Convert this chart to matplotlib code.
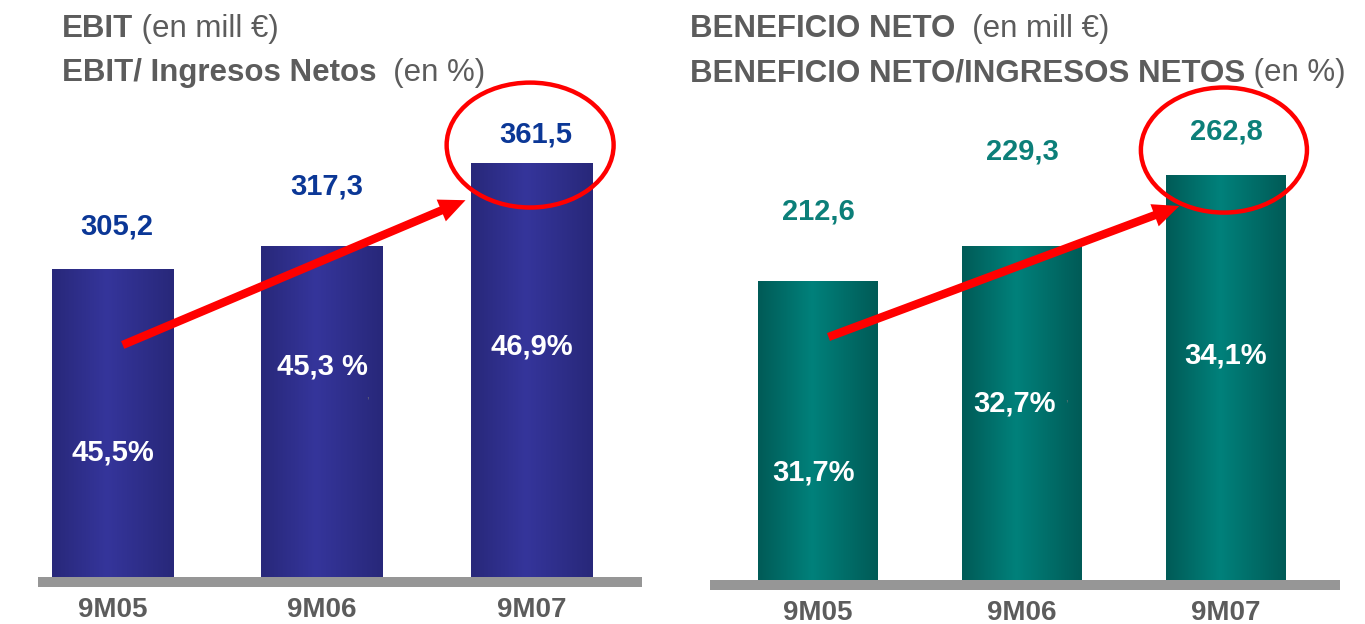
#! /usr/bin/env python3
"""EBIT y Beneficio Neto 9M05-9M07, dos paneles de barras."""

import numpy as np
import matplotlib.pyplot as plt
from matplotlib.patches import Ellipse, FancyArrowPatch

plt.rcParams['font.family'] = ['Liberation Sans', 'DejaVu Sans']

# Datos
periodos = ['9M05', '9M06', '9M07']
ebit = [305.2, 317.3, 361.5]
ebit_lbl = ['305,2', '317,3', '361,5']
ebit_pct = ['45,5%', '45,3 %', '46,9%']
bn = [212.6, 229.3, 262.8]
bn_lbl = ['212,6', '229,3', '262,8']
bn_pct = ['31,7%', '32,7%', '34,1%']

W, H = 1365, 624
fig = plt.figure(figsize=(W / 100, H / 100), dpi=100)

gris_txt = '#5c5c5c'


def gradiente(c_osc, c_cla, n=64):
    t = np.linspace(0, 1, n)
    k = np.interp(t, [0, 0.45, 1], [0, 1, 0])
    a = np.array(plt.matplotlib.colors.to_rgb(c_osc))
    b = np.array(plt.matplotlib.colors.to_rgb(c_cla))
    return (a[None, :] * (1 - k[:, None]) + b[None, :] * k[:, None])[None, :, :]


def panel(rect, vals, ylim, xlim, ancho, c_osc, c_cla, banda):
    ax = fig.add_axes(rect)
    grad = gradiente(c_osc, c_cla)
    bars = ax.bar(range(len(vals)), vals, width=ancho, color=c_cla, zorder=2)
    for b in bars:
        x0 = b.get_x()
        im = ax.imshow(grad, extent=(x0, x0 + b.get_width(), ylim[0], b.get_height()),
                       aspect='auto', zorder=2.5)
        im.set_clip_path(b)
    ax.axhspan(ylim[0], banda, color='#969696', zorder=3, lw=0)
    ax.set_xlim(*xlim)
    ax.set_ylim(*ylim)
    for s in ax.spines.values():
        s.set_visible(False)
    ax.set_yticks([])
    ax.set_xticks(range(len(vals)))
    ax.set_xticklabels(periodos, fontsize=20, fontweight='bold', color=gris_txt)
    ax.tick_params(axis='x', length=0, pad=7)
    return ax


def titulo(x, y, negrita, normal):
    t = fig.text(x / W, 1 - y / H, negrita, fontsize=22.5, fontweight='bold',
                 color=gris_txt, va='baseline')
    a = plt.Annotation(normal, xy=(1, 0), xycoords=t, va='bottom',
                       fontsize=22.5, color=gris_txt)
    fig.add_artist(a)


# Panel izquierdo: EBIT
axL = panel([38 / W, 37 / H, 604 / W, 587 / H], ebit, (136.4, 448.0),
            (-0.356, 2.527), 0.582, '#28287a', '#35359b', 141.7)
for i, (v, lab, py) in enumerate(zip(ebit, ebit_lbl, [328.0, 349.2, 376.8])):
    axL.text(i + 0.02, py, lab, ha='center', va='center', fontsize=21,
             fontweight='bold', color='#0b3796', zorder=5)
for i, (lab, py) in enumerate(zip(ebit_pct, [208.0, 253.7, 264.3])):
    axL.text(i, py, lab, ha='center', va='center', fontsize=21,
             fontweight='bold', color='white', zorder=5)
axL.text(1.215, 238.3, ',', fontsize=7, color='#777777', ha='center', va='center', zorder=5)
axL.add_patch(FancyArrowPatch((0.036, 264.3), (1.697, 342.3),
                              arrowstyle='simple,head_length=1.9,head_width=1.7,tail_width=0.6',
                              mutation_scale=10, color='#ff0000', lw=0, zorder=6))
axL.add_patch(Ellipse((1.993, 371.0), 0.797, 66.3, fill=False, ec='#ff0000',
                      lw=3.2, zorder=6, clip_on=False))

# Panel derecho: Beneficio neto
axR = panel([710 / W, 34 / H, 630 / W, 590 / H], bn, (66.8, 345.6),
            (-0.529, 2.559), 0.588, '#005b57', '#00817b', 71.5)
for i, (v, lab, py) in enumerate(zip(bn, bn_lbl, [245.6, 274.0, 283.5])):
    axR.text(i, py, lab, ha='center', va='center', fontsize=21,
             fontweight='bold', color='#0c7f79', zorder=5)
for i, (lab, dx, py) in enumerate(zip(bn_pct, [-0.02, -0.034, 0.0], [122.5, 154.7, 177.4])):
    axR.text(i + dx, py, lab, ha='center', va='center', fontsize=21,
             fontweight='bold', color='white', zorder=5)
axR.text(1.22, 157.5, ',', fontsize=7, color='#777777', ha='center', va='center', zorder=5)
axR.add_patch(FancyArrowPatch((0.039, 185.9), (1.784, 248.7),
                              arrowstyle='simple,head_length=1.9,head_width=1.7,tail_width=0.6',
                              mutation_scale=10, color='#ff0000', lw=0, zorder=6))
axR.add_patch(Ellipse((1.99, 274.7), 0.814, 59.1, fill=False, ec='#ff0000',
                      lw=3.2, zorder=6, clip_on=False))

# Titulos
titulo(62, 37, 'EBIT', ' (en mill €)')
titulo(62, 81, 'EBIT/ Ingresos Netos', '  (en %)')
titulo(690, 37, 'BENEFICIO NETO', '  (en mill €)')
titulo(690, 81, 'BENEFICIO NETO/INGRESOS NETOS', ' (en %)')

fig.savefig('out.png', dpi=100)
